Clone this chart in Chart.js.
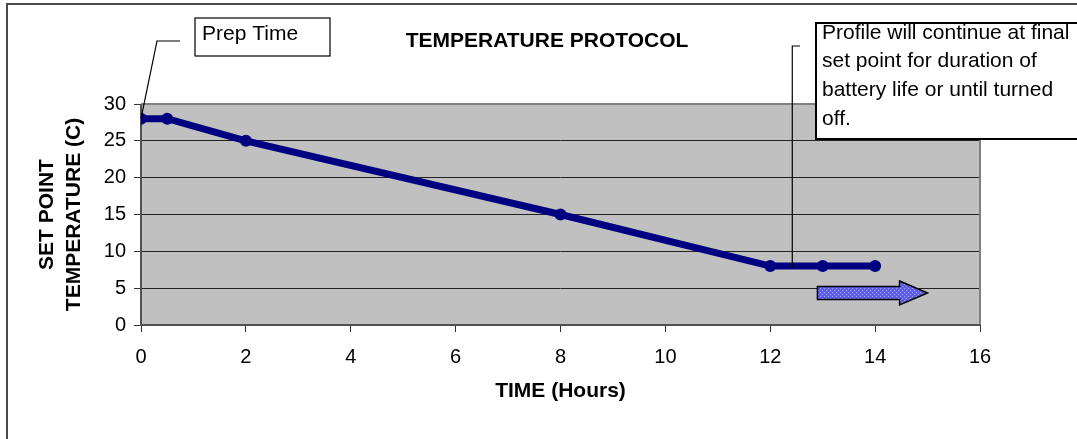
<!DOCTYPE html>
<html>
<head>
<meta charset="utf-8">
<script src="https://cdn.jsdelivr.net/npm/chart.js@4"></script>
<style>
  html, body { margin: 0; padding: 0; background: #fff; }
  #wrap { width: 1077px; height: 439px; }
</style>
</head>
<body>
<div id="wrap"><canvas id="chart-protocolo" width="1077" height="439"></canvas></div>
<script>
// dados
const horas = [0, 0.5, 2, 8, 12, 13, 14];
const temperaturas = [28, 28, 25, 15, 8, 8, 8];
const seta = { de: 12.9, ate: 15, nivel: 4.35 };
const notaPrep = ['Prep Time'];
const notaPerfil = ['Profile will continue at final', 'set point for duration of', 'battery life or until turned', 'off.'];

const fonte = 'Liberation Sans, Arial, sans-serif';

function fundoPadrao(ctx) {
    const c = document.createElement('canvas');
    c.width = 4; c.height = 4;
    const p = c.getContext('2d');
    p.fillStyle = '#5f5fe6';
    p.fillRect(0, 0, 4, 4);
    p.fillStyle = '#a4a4ff';
    p.fillRect(0, 0, 1, 1);
    p.fillRect(2, 2, 1, 1);
    return ctx.createPattern(c, 'repeat');
}

const desenhos = {
    id: 'desenhos',
    afterLayout(chart) {
        // titulo centrado sobre a area do grafico, como no original
        if (chart.titleBlock) {
            chart.titleBlock.left += 57;
            chart.titleBlock.right += 57;
        }
    },
    beforeDraw(chart) {
        const { ctx, chartArea: a } = chart;
        ctx.save();
        ctx.fillStyle = '#c0c0c0';
        ctx.fillRect(a.left, a.top, a.right - a.left, a.bottom - a.top);
        ctx.strokeStyle = '#4a4a4a';
        ctx.lineWidth = 2;
        ctx.strokeRect(7, 4, 1200, 600);
        ctx.restore();
    },
    beforeDatasetsDraw(chart) {
        const { ctx, chartArea: a } = chart;
        ctx.save();
        ctx.strokeStyle = '#808080';
        ctx.lineWidth = 2;
        ctx.beginPath();
        ctx.moveTo(a.left, a.top);
        ctx.lineTo(a.right, a.top);
        ctx.lineTo(a.right, a.bottom);
        ctx.stroke();
        ctx.strokeStyle = '#505050';
        ctx.beginPath();
        ctx.moveTo(a.left, a.top);
        ctx.lineTo(a.left, a.bottom);
        ctx.lineTo(a.right, a.bottom);
        ctx.stroke();
        ctx.restore();
    },
    afterDraw(chart) {
        const { ctx, scales: { x, y } } = chart;
        ctx.save();
        // seta azul
        const x0 = x.getPixelForValue(seta.de);
        const x1 = x.getPixelForValue(seta.ate);
        const yc = y.getPixelForValue(seta.nivel);
        const xh = x1 - 28;
        ctx.beginPath();
        ctx.moveTo(x0, yc - 6.5);
        ctx.lineTo(xh, yc - 6.5);
        ctx.lineTo(xh, yc - 12);
        ctx.lineTo(x1, yc);
        ctx.lineTo(xh, yc + 12);
        ctx.lineTo(xh, yc + 6.5);
        ctx.lineTo(x0, yc + 6.5);
        ctx.closePath();
        ctx.fillStyle = fundoPadrao(ctx);
        ctx.fill();
        ctx.strokeStyle = '#000';
        ctx.lineWidth = 1.5;
        ctx.stroke();

        // linhas de chamada
        ctx.lineWidth = 1.2;
        ctx.beginPath();
        ctx.moveTo(180, 41);
        ctx.lineTo(157, 41);
        ctx.lineTo(x.getPixelForValue(horas[0]), y.getPixelForValue(temperaturas[0]));
        ctx.stroke();
        const xv = x.getPixelForValue(12.42);
        ctx.beginPath();
        ctx.moveTo(800, 46);
        ctx.lineTo(xv, 46);
        ctx.lineTo(xv, y.getPixelForValue(temperaturas[4]) + 1);
        ctx.stroke();

        // caixas de texto
        ctx.fillStyle = '#fff';
        ctx.fillRect(195, 18, 135, 38);
        ctx.fillRect(816, 23, 270, 116);
        ctx.strokeStyle = '#000';
        ctx.lineWidth = 1.2;
        ctx.strokeRect(195, 18, 135, 38);
        ctx.lineWidth = 2;
        ctx.strokeRect(816, 23, 270, 116);
        ctx.fillStyle = '#000';
        ctx.font = '21px ' + fonte;
        ctx.textBaseline = 'middle';
        ctx.textAlign = 'left';
        notaPrep.forEach((t, i) => ctx.fillText(t, 202, 34 + i * 28));
        notaPerfil.forEach((t, i) => ctx.fillText(t, 822, 33 + i * 28.7));
        ctx.restore();
    }
};

new Chart(document.getElementById('chart-protocolo'), {
    type: 'line',
    data: {
        datasets: [{
            label: 'Set point',
            data: horas.map((h, i) => ({ x: h, y: temperaturas[i] })),
            borderColor: '#000080',
            backgroundColor: '#000080',
            borderWidth: 7,
            pointRadius: 6,
            pointBackgroundColor: '#000080',
            pointBorderWidth: 0,
            tension: 0
        }]
    },
    options: {
        responsive: false,
        animation: false,
        layout: { padding: { left: 0, right: 97, top: 0, bottom: 0 } },
        plugins: {
            legend: { display: false },
            tooltip: { enabled: false },
            title: {
                display: true,
                text: 'TEMPERATURE PROTOCOL',
                color: '#000',
                font: { family: fonte, size: 21, weight: 'bold', lineHeight: 1.2 },
                padding: { top: 28.5, bottom: 50.3 }
            }
        },
        scales: {
            x: {
                type: 'linear',
                min: 0,
                max: 16,
                afterFit(scale) { scale.height = 114; },
                ticks: {
                    stepSize: 2,
                    color: '#000',
                    padding: 13,
                    font: { family: fonte, size: 20 }
                },
                grid: {
                    drawOnChartArea: false,
                    drawTicks: true,
                    tickLength: 7,
                    tickColor: '#333'
                },
                border: { display: false },
                title: {
                    display: true,
                    text: 'TIME (Hours)',
                    color: '#000',
                    font: { family: fonte, size: 21, weight: 'bold', lineHeight: 1.2 },
                    padding: { top: 0, bottom: 35.5 }
                }
            },
            y: {
                min: 0,
                max: 30,
                afterFit(scale) { scale.width = 141; },
                ticks: {
                    stepSize: 5,
                    color: '#000',
                    padding: 8,
                    font: { family: fonte, size: 20 }
                },
                grid: {
                    color(context) {
                        const v = context.tick && context.tick.value;
                        return (v === 0 || v === 30) ? 'rgba(0,0,0,0)' : '#222';
                    },
                    lineWidth: 1,
                    tickLength: 7,
                    tickColor: '#333'
                },
                border: { display: false },
                title: {
                    display: true,
                    text: ['SET POINT', 'TEMPERATURE (C)'],
                    color: '#000',
                    font: { family: fonte, size: 21, weight: 'bold', lineHeight: 1.26 },
                    padding: { top: 34.3, bottom: 0 }
                }
            }
        }
    },
    plugins: [desenhos]
});
</script>
</body>
</html>
